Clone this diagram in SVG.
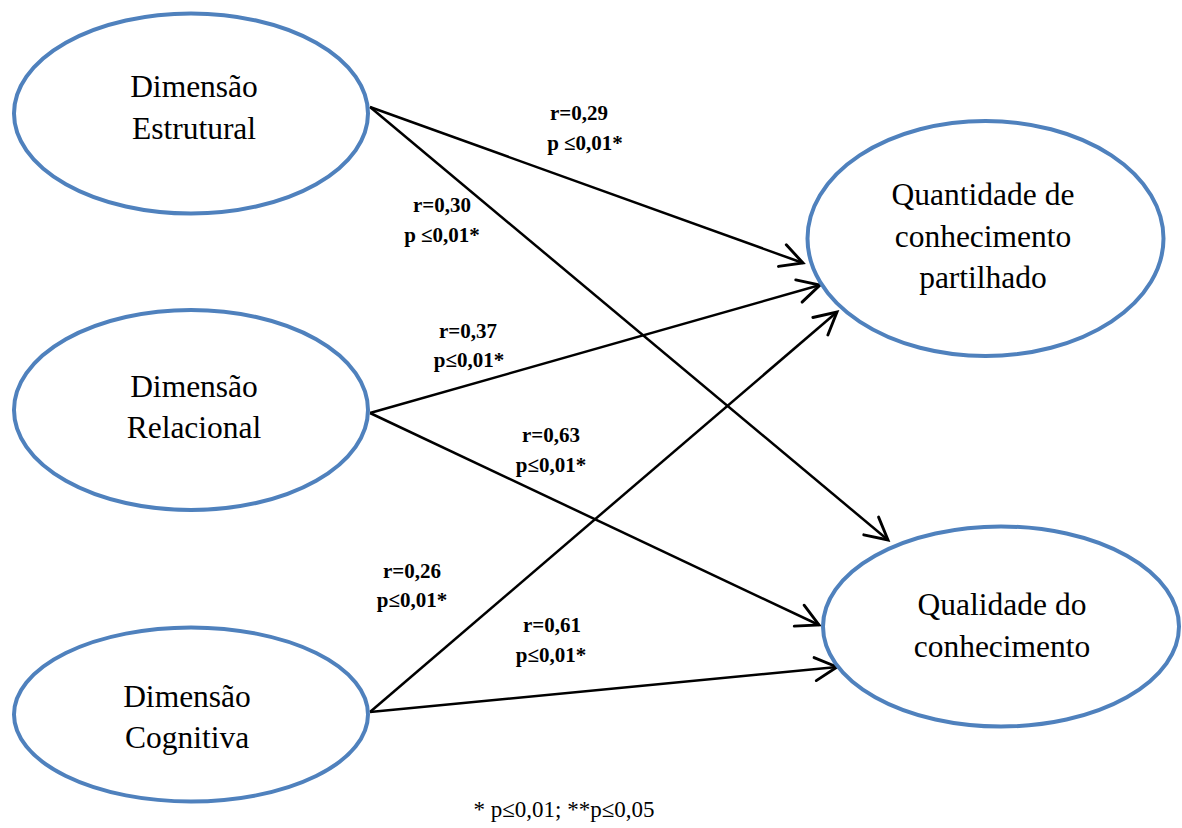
<svg xmlns="http://www.w3.org/2000/svg" width="1182" height="828" viewBox="0 0 1182 828">
<defs>
<style>
.node{fill:#ffffff;stroke:#4f81bd;stroke-width:4}
.nt{font-family:"Liberation Serif","Times New Roman",serif;font-size:31.5px;fill:#000;text-anchor:middle}
.lb{font-family:"Liberation Serif","Times New Roman",serif;font-size:21px;font-weight:bold;fill:#000;text-anchor:middle}
.ft{font-family:"Liberation Serif","Times New Roman",serif;font-size:23px;fill:#000;text-anchor:middle}
.edge{stroke:#000;stroke-width:2.5;fill:none;marker-end:url(#arr)}
</style>
<marker id="arr" markerUnits="userSpaceOnUse" markerWidth="30" markerHeight="30" viewBox="-22 -12 26 24" refX="0" refY="0" orient="auto">
<path d="M-19,-10 L0,0 L-19,10" fill="none" stroke="#000" stroke-width="2.5" stroke-linecap="round" stroke-linejoin="miter"/>
</marker>
</defs>
<rect width="1182" height="828" fill="#ffffff"/>
<g id="connectors">
<line class="edge" x1="370" y1="107" x2="803" y2="263"/>
<line class="edge" x1="370" y1="107" x2="888" y2="540"/>
<line class="edge" x1="370" y1="413" x2="820" y2="285"/>
<line class="edge" x1="370" y1="413" x2="819" y2="625"/>
<line class="edge" x1="370" y1="712" x2="837" y2="312"/>
<line class="edge" x1="370" y1="712" x2="837" y2="667"/>
</g>
<g id="labels">
<text class="lb" x="579" y="120">r=0,29</text>
<text class="lb" x="585" y="150">p ≤0,01*</text>
<text class="lb" x="442" y="212">r=0,30</text>
<text class="lb" x="442" y="242">p ≤0,01*</text>
<text class="lb" x="468" y="338">r=0,37</text>
<text class="lb" x="469" y="367">p≤0,01*</text>
<text class="lb" x="551" y="442">r=0,63</text>
<text class="lb" x="551" y="472">p≤0,01*</text>
<text class="lb" x="412" y="578">r=0,26</text>
<text class="lb" x="412" y="607">p≤0,01*</text>
<text class="lb" x="552" y="632">r=0,61</text>
<text class="lb" x="551" y="662">p≤0,01*</text>
</g>
<g id="node-estrutural">
<ellipse class="node" cx="191" cy="113.5" rx="177" ry="100"/>
<text class="nt" x="194" y="97">Dimensão</text>
<text class="nt" x="194" y="139">Estrutural</text>
</g>
<g id="node-relacional">
<ellipse class="node" cx="191" cy="410" rx="177" ry="100"/>
<text class="nt" x="194" y="397">Dimensão</text>
<text class="nt" x="194" y="438">Relacional</text>
</g>
<g id="node-cognitiva">
<ellipse class="node" cx="191" cy="714.5" rx="177" ry="87"/>
<text class="nt" x="187" y="707">Dimensão</text>
<text class="nt" x="187" y="748">Cognitiva</text>
</g>
<g id="node-quantidade">
<ellipse class="node" cx="985.5" cy="238.5" rx="178" ry="117.5"/>
<text class="nt" x="983" y="205">Quantidade de</text>
<text class="nt" x="983" y="247">conhecimento</text>
<text class="nt" x="983" y="288">partilhado</text>
</g>
<g id="node-qualidade">
<ellipse class="node" cx="1001" cy="626.5" rx="178" ry="100"/>
<text class="nt" x="1002" y="615">Qualidade do</text>
<text class="nt" x="1002" y="657">conhecimento</text>
</g>
<g id="footnote">
<text class="ft" x="564" y="817">* p≤0,01; **p≤0,05</text>
</g>
</svg>
